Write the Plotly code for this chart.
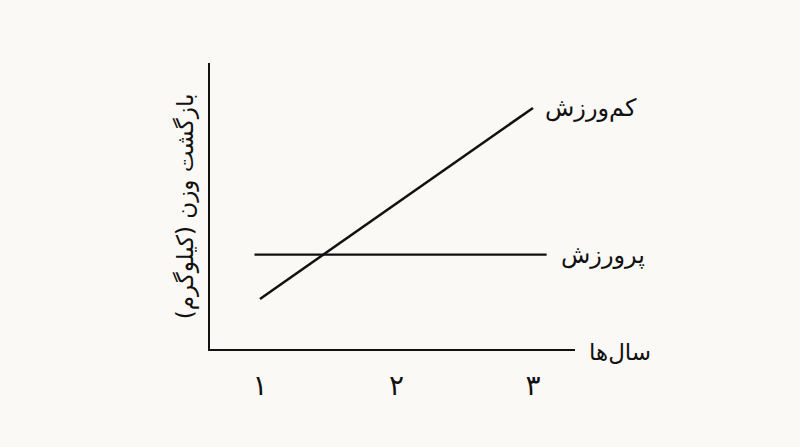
import plotly.graph_objects as go

# data (y in arbitrary kg units, no y ticks shown)
years_low = [1, 2, 3]
regain_low = [1.75, 5.1, 8.43]
years_high = [0.96, 3.1]
regain_high = [3.3, 3.3]

tick_vals = [1, 2, 3]
tick_text = ["١", "٢", "٣"]

label_low = "کم\u200cورزش"
label_high = "پرورزش"
x_title = "سال\u200cها"
y_title = "بازگشت وزن (کیلوگرم)"

ink = "#111111"
bg = "#fbf9f5"
font_fa = "DejaVu Sans"

fig = go.Figure()
fig.add_trace(go.Scatter(x=years_low, y=regain_low, mode="lines",
                         line=dict(color=ink, width=2.5), hoverinfo="skip"))
fig.add_trace(go.Scatter(x=years_high, y=regain_high, mode="lines",
                         line=dict(color=ink, width=2.2), hoverinfo="skip"))

# line labels at the right ends of each line
fig.add_annotation(x=years_low[-1], y=regain_low[-1], xref="x", yref="y",
                   text=label_low, showarrow=False, xanchor="left", xshift=10,
                   font=dict(family=font_fa, size=24, color=ink))
fig.add_annotation(x=years_high[-1], y=regain_high[-1], xref="x", yref="y",
                   text=label_high, showarrow=False, xanchor="left", xshift=12,
                   font=dict(family=font_fa, size=24, color=ink))

# axis titles
fig.add_annotation(x=1.033, y=-0.01, xref="paper", yref="paper",
                   text=x_title, showarrow=False, xanchor="left", yanchor="middle",
                   font=dict(family=font_fa, size=23, color=ink))
fig.add_annotation(x=-0.068, y=0.5, xref="paper", yref="paper",
                   text=y_title, showarrow=False, textangle=-90,
                   xanchor="center", yanchor="middle",
                   font=dict(family=font_fa, size=23, color=ink))

fig.update_xaxes(range=[0.634, 3.308], showline=True, linecolor=ink, linewidth=2.2,
                 showgrid=False, zeroline=False, tickvals=tick_vals, ticktext=tick_text,
                 ticks="", ticklabelstandoff=10,
                 tickfont=dict(family=font_fa, size=28, color=ink))
fig.update_yaxes(range=[0, 10], showline=True, linecolor=ink, linewidth=2.2,
                 showgrid=False, zeroline=False, showticklabels=False, ticks="")

fig.update_layout(width=800, height=447, showlegend=False,
                  paper_bgcolor=bg, plot_bgcolor=bg,
                  margin=dict(l=210, r=225, t=63, b=98))

# drop the default page margin so the figure sits at the window corner
fig.write_html("out.html", config={"displayModeBar": False},
               post_script="document.body.style.margin='0';document.body.style.background='%s';" % bg)
